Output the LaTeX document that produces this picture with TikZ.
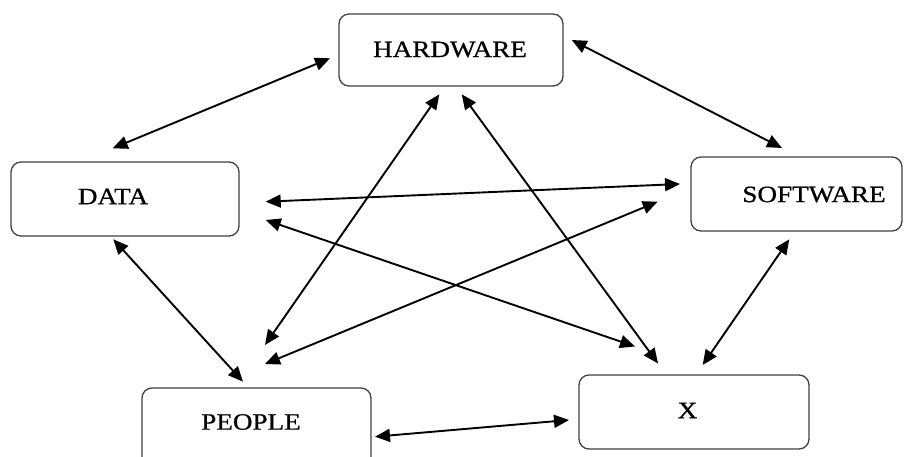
\documentclass[tikz,border=0pt]{standalone}
\usepackage{fontspec}
\setmainfont{Liberation Serif}[FakeStretch=1.16,FakeBold=0.8]
\usetikzlibrary{arrows.meta}
\begin{document}
\begin{tikzpicture}[x=1pt,y=-1pt,
  box/.style={draw=black!75, line width=1.3pt, rounded corners=10pt, inner sep=0pt},
  lbl/.style={font=\fontsize{23.4}{28}\selectfont, text=black, inner sep=0pt, anchor=center},
  link/.style={line width=1.9pt, {Triangle[length=15pt,width=13pt]}-{Triangle[length=15pt,width=13pt]}}]
\useasboundingbox (0,0) rectangle (907,457);
\clip (0,0) rectangle (907,457);
% boxes
\node[box, minimum width=224pt, minimum height=72pt] (hw) at (451,50) {};
\node[box, minimum width=228pt, minimum height=74pt] (da) at (125,199) {};
\node[box, minimum width=211pt, minimum height=74pt] (sw) at (796.5,194) {};
\node[box, minimum width=229pt, minimum height=100pt] (pe) at (256.5,438) {};
\node[box, minimum width=230pt, minimum height=74pt] (xx) at (694,412) {};
% labels
\node[lbl] (hwt) at (450,49.5) {HARDWARE};
\node[lbl] (dat) at (113,196.5) {DATA};
\node[lbl] (swt) at (814,194.5) {SOFTWARE};
\node[lbl] (pet) at (251,422) {PEOPLE};
\node[lbl] (xxt) at (687.5,410.5) {X};
% arrow ends
\coordinate (hwA) at (330,58.3);   \coordinate (daA) at (112.7,148.3);
\coordinate (hwB) at (571.7,40);   \coordinate (swB) at (782,148);
\coordinate (hwC) at (439.3,94.3); \coordinate (peC) at (265,345);
\coordinate (hwD) at (461.7,94.3); \coordinate (xxD) at (658,363.5);
\coordinate (daE) at (265.7,201.7);\coordinate (swE) at (680,184);
\coordinate (daF) at (265.7,220);  \coordinate (xxF) at (635,346.5);
\coordinate (peG) at (265,364);    \coordinate (swG) at (657.7,201.7);
\coordinate (daH) at (113.3,239.3);\coordinate (peH) at (243,381.7);
\coordinate (swI) at (789.3,239.3);\coordinate (xxI) at (702.7,365);
\coordinate (peJ) at (375,436.7);  \coordinate (xxJ) at (569,420);
% connectors
\draw[link] (hwA) -- (daA);
\draw[link] (hwB) -- (swB);
\draw[link] (hwC) -- (peC);
\draw[link] (hwD) -- (xxD);
\draw[link] (daE) -- (swE);
\draw[link] (daF) -- (xxF);
\draw[link] (peG) -- (swG);
\draw[link] (daH) -- (peH);
\draw[link] (swI) -- (xxI);
\draw[link] (peJ) -- (xxJ);
\end{tikzpicture}
\end{document}
